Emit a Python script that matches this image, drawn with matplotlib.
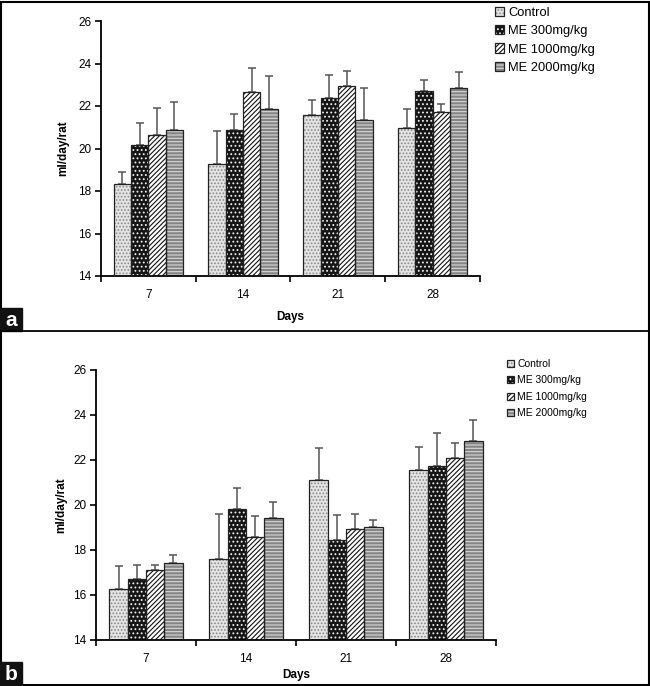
import numpy as np
import matplotlib
matplotlib.use('Agg')
import matplotlib.pyplot as plt
from matplotlib.patches import Rectangle
from matplotlib.lines import Line2D

plt.rcParams['font.family'] = ['Liberation Sans', 'DejaVu Sans']
plt.rcParams['hatch.linewidth'] = 0.8

# dados
days = ['7', '14', '21', '28']
groups = ['Control', 'ME 300mg/kg', 'ME 1000mg/kg', 'ME 2000mg/kg']

# painel a: medias e topo das barras de erro
a_mean = [[18.31, 19.25, 21.56, 20.98],
          [20.15, 20.85, 22.39, 22.71],
          [20.62, 22.66, 22.93, 21.72],
          [20.85, 21.87, 21.33, 22.86]]
a_top = [[18.88, 20.82, 22.28, 21.84],
         [21.20, 21.64, 23.44, 23.24],
         [21.92, 23.80, 23.65, 22.11],
         [22.20, 23.40, 22.86, 23.60]]

# painel b
b_mean = [[16.25, 17.60, 21.10, 21.54],
          [16.71, 19.81, 18.43, 21.72],
          [17.13, 18.59, 18.92, 22.10],
          [17.41, 19.42, 19.00, 22.83]]
b_top = [[17.29, 19.60, 22.52, 22.56],
         [17.32, 20.74, 19.56, 23.19],
         [17.32, 19.50, 19.60, 22.74],
         [17.79, 20.15, 19.35, 23.79]]

# estilo de cada grupo: cor de fundo, hachura, cor da hachura
estilos = [('#e4e4e4', '.....', '#8a8a8a'),
           ('#151515', '....', '#f0f0f0'),
           ('#ffffff', '///////', '#111111'),
           ('#858585', '-----', '#d8d8d8')]


def painel(fig, rect, mean, top, leg_anchor, leg_size, leg_spacing, xlab_y, ylab_x):
	ax = fig.add_axes(rect)
	x = np.arange(len(days))
	w = 0.183
	handles = []
	for i in range(len(groups)):
		pos = x + (i - 1.5) * w
		fc, ht, hc = estilos[i]
		b1 = ax.bar(pos, mean[i], w, bottom=0, color=fc, edgecolor=hc, hatch=ht, linewidth=0, zorder=2)
		b2 = ax.bar(pos, mean[i], w, fill=False, edgecolor='#222222', linewidth=0.9, zorder=3)
		err = np.array(top[i]) - np.array(mean[i])
		ax.errorbar(pos, mean[i], yerr=[np.zeros(len(days)), err], fmt='none',
		            ecolor='#555555', elinewidth=1.1, capsize=2.8, capthick=1.1, zorder=1)
		handles.append((b1[0], b2[0]))

	ax.set_ylim(14, 26)
	ax.set_xlim(-0.5, 3.5)
	ax.set_yticks(np.arange(14, 27, 2))
	ax.set_xticks(x)
	ax.set_xticklabels(days)
	ax.set_xticks(np.arange(-0.5, 4, 1), minor=True)
	ax.tick_params(axis='x', which='major', length=0, pad=9, labelsize=8.5)
	ax.tick_params(axis='x', which='minor', length=4, width=1.2, direction='out')
	ax.tick_params(axis='y', length=4, width=1.2, direction='out', labelsize=8.5, pad=3)
	for s in ['top', 'right']:
		ax.spines[s].set_visible(False)
	for s in ['left', 'bottom']:
		ax.spines[s].set_linewidth(1.3)

	fig.text(rect[0] + rect[2] / 2, xlab_y, 'Days', ha='center', va='center', fontsize=8.5, fontweight='bold')
	fig.text(ylab_x, rect[1] + rect[3] / 2, 'ml/day/rat', rotation=90, ha='center', va='center',
	         fontsize=8.5, fontweight='bold')

	fig.legend(handles, groups, loc='upper left', bbox_to_anchor=leg_anchor, frameon=False,
	           fontsize=leg_size, handlelength=0.7, handleheight=0.7, handletextpad=0.3,
	           labelspacing=leg_spacing, borderpad=0, borderaxespad=0)
	return ax


W, H = 650, 686
fig = plt.figure(figsize=(W / 100, H / 100), dpi=100)

painel(fig, [101 / W, 1 - 276 / H, 379 / W, 255 / H], a_mean, a_top,
       (495 / W, 1 - 7 / H), 9.3, 0.48, 1 - 317 / H, 63 / W)
painel(fig, [96 / W, 1 - 640 / H, 400 / W, 270 / H], b_mean, b_top,
       (507 / W, 1 - 359 / H), 7.5, 0.62, 1 - 675 / H, 61 / W)

# moldura e separacao dos paineis
fig.patches.append(Rectangle((0.5 / W, 1.5 / H), 1 - 2 / W, 1 - 3.5 / H, transform=fig.transFigure,
                             fill=False, edgecolor='black', linewidth=1.5))
fig.lines.append(Line2D([0, 1], [1 - 331 / H, 1 - 331 / H], transform=fig.transFigure, color='black', linewidth=1.3))

# etiquetas a e b
for lab, ytop in [('a', 308), ('b', 662)]:
	fig.patches.append(Rectangle((0, 1 - (ytop + 23) / H), 22 / W, 23 / H, transform=fig.transFigure,
	                             color='#111111'))
	fig.text(11 / W, 1 - (ytop + 12) / H, lab, color='white', ha='center', va='center',
	         fontsize=15, fontweight='bold')

plt.savefig('out.png', dpi=100)
